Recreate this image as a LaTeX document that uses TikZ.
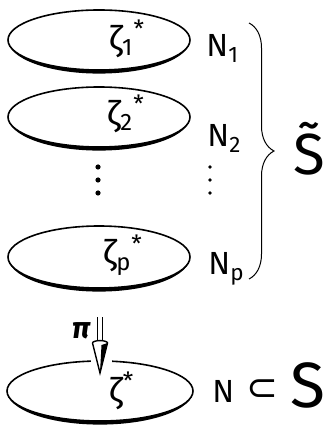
\documentclass[tikz,border=0pt]{standalone}
\usepackage{fontspec}
\setmainfont{Fira Sans}
\newfontfamily\symfont{DejaVu Sans}
\usetikzlibrary{shapes.geometric, positioning, decorations.pathreplacing, calc}
\tikzset{
  sheet/.style={
    ellipse, draw, line width=0.8pt,
    inner sep=0pt, outer sep=0pt,
    minimum width=91pt, minimum height=30pt
  },
  ptlabel/.style={font=\fontsize{17}{17}\selectfont, inner sep=0pt},
  nlabel/.style={font=\fontsize{16}{16}\selectfont, inner sep=0pt},
  biglabel/.style={font=\fontsize{#1}{#1}\selectfont, inner sep=0pt},
  pilabel/.style={font=\fontsize{15}{15}\selectfont\bfseries\itshape, inner sep=0pt},
}
% thick lower rim of a sheet
\newcommand{\sheetrim}[3]{%
  \fill (#1.west) arc[start angle=180, end angle=360, x radius=#2, y radius=#3]
        arc[start angle=0, end angle=-180, x radius=#2, y radius=#3+1.8pt] -- cycle;}

\begin{document}
\begin{tikzpicture}[x=0.5pt, y=-0.5pt]
  \useasboundingbox (0,0) rectangle (325,431);
  % sheets
  \node[sheet] (e1) at (99,40) {};
  \node[sheet] (e2) at (99,117) {};
  \node[sheet, minimum height=31pt] (ep) at (99,257) {};
  \node[sheet, minimum width=93pt] (e0) at (100,391) {};
  \sheetrim{e1}{45.5pt}{15pt}
  \sheetrim{e2}{45.5pt}{15pt}
  \sheetrim{ep}{45.5pt}{15.5pt}
  \sheetrim{e0}{46.5pt}{15pt}
  % points on the sheets
  \node[ptlabel] (z1) at ($(e1.center)+(28,-1)$) {ζ\textsubscript{1}\textsuperscript{*}};
  \node[ptlabel] (z2) at ($(e2.center)+(27,-3)$) {ζ\textsubscript{2}\textsuperscript{*}};
  \node[ptlabel] (zp) at ($(ep.center)+(24,-2)$) {ζ\textsubscript{p}\textsuperscript{*}};
  \node[ptlabel] (z0) at ($(e0.center)+(22,0)$) {ζ\textsuperscript{*}};
  % neighbourhoods
  \node[nlabel, anchor=base west] (n1) at ($(e1.east)+(16,17)$) {N\textsubscript{1}};
  \node[nlabel, anchor=base west] (n2) at ($(e2.east)+(17,30)$) {N\textsubscript{2}};
  \node[nlabel, anchor=base west] (np) at ($(ep.east)+(18,18)$) {N\textsubscript{p}};
  \node[nlabel, anchor=base west] (n0) at ($(e0.east)+(19,11)$) {N};
  \node[biglabel=19, font=\symfont\fontsize{19}{19}\selectfont] (sub) at (262,390) {⊂};
  \node[biglabel=32, anchor=base west] (s0) at (290,407) {S};
  % vertical dots
  \foreach \y in {167,180,193} {
    \fill (98,\y) circle[radius=1.3pt];
    \fill (210,\y) circle[radius=0.9pt];
  }
  % brace
  \coordinate (bracetop) at (249,23);
  \coordinate (bracebot) at (249,279);
  \draw[decorate, decoration={brace, amplitude=12.5pt}, line width=0.5pt]
    (bracetop) -- (bracebot);
  \node[biglabel=29, anchor=base west] (stilde) at (293,175) {\~{S}};
  % projection
  \coordinate (pitail) at (100,317);
  \coordinate (pitip) at ($(e0.north)+(0,12)$);
  \fill[white] ($(e0.north)+(-9,-3)$) rectangle ($(e0.north)+(12,3)$);
  \draw[double=white, double distance=1.8pt, line width=0.6pt]
    (pitail) -- ($(pitip)+(0,-29)$);
  \draw[fill=white, line width=0.7pt] ($(pitip)+(-7.5,-30)$) -- (pitip)
    -- ($(pitip)+(7.5,-30)$) arc[start angle=0, end angle=180, x radius=3.75pt, y radius=1.2pt];
  \fill ($(pitip)+(1.5,-28)$) -- (pitip) -- ($(pitip)+(7.5,-30)$) -- cycle;
  \node[pilabel] (pi) at (81,331) {π};
\end{tikzpicture}
\end{document}
